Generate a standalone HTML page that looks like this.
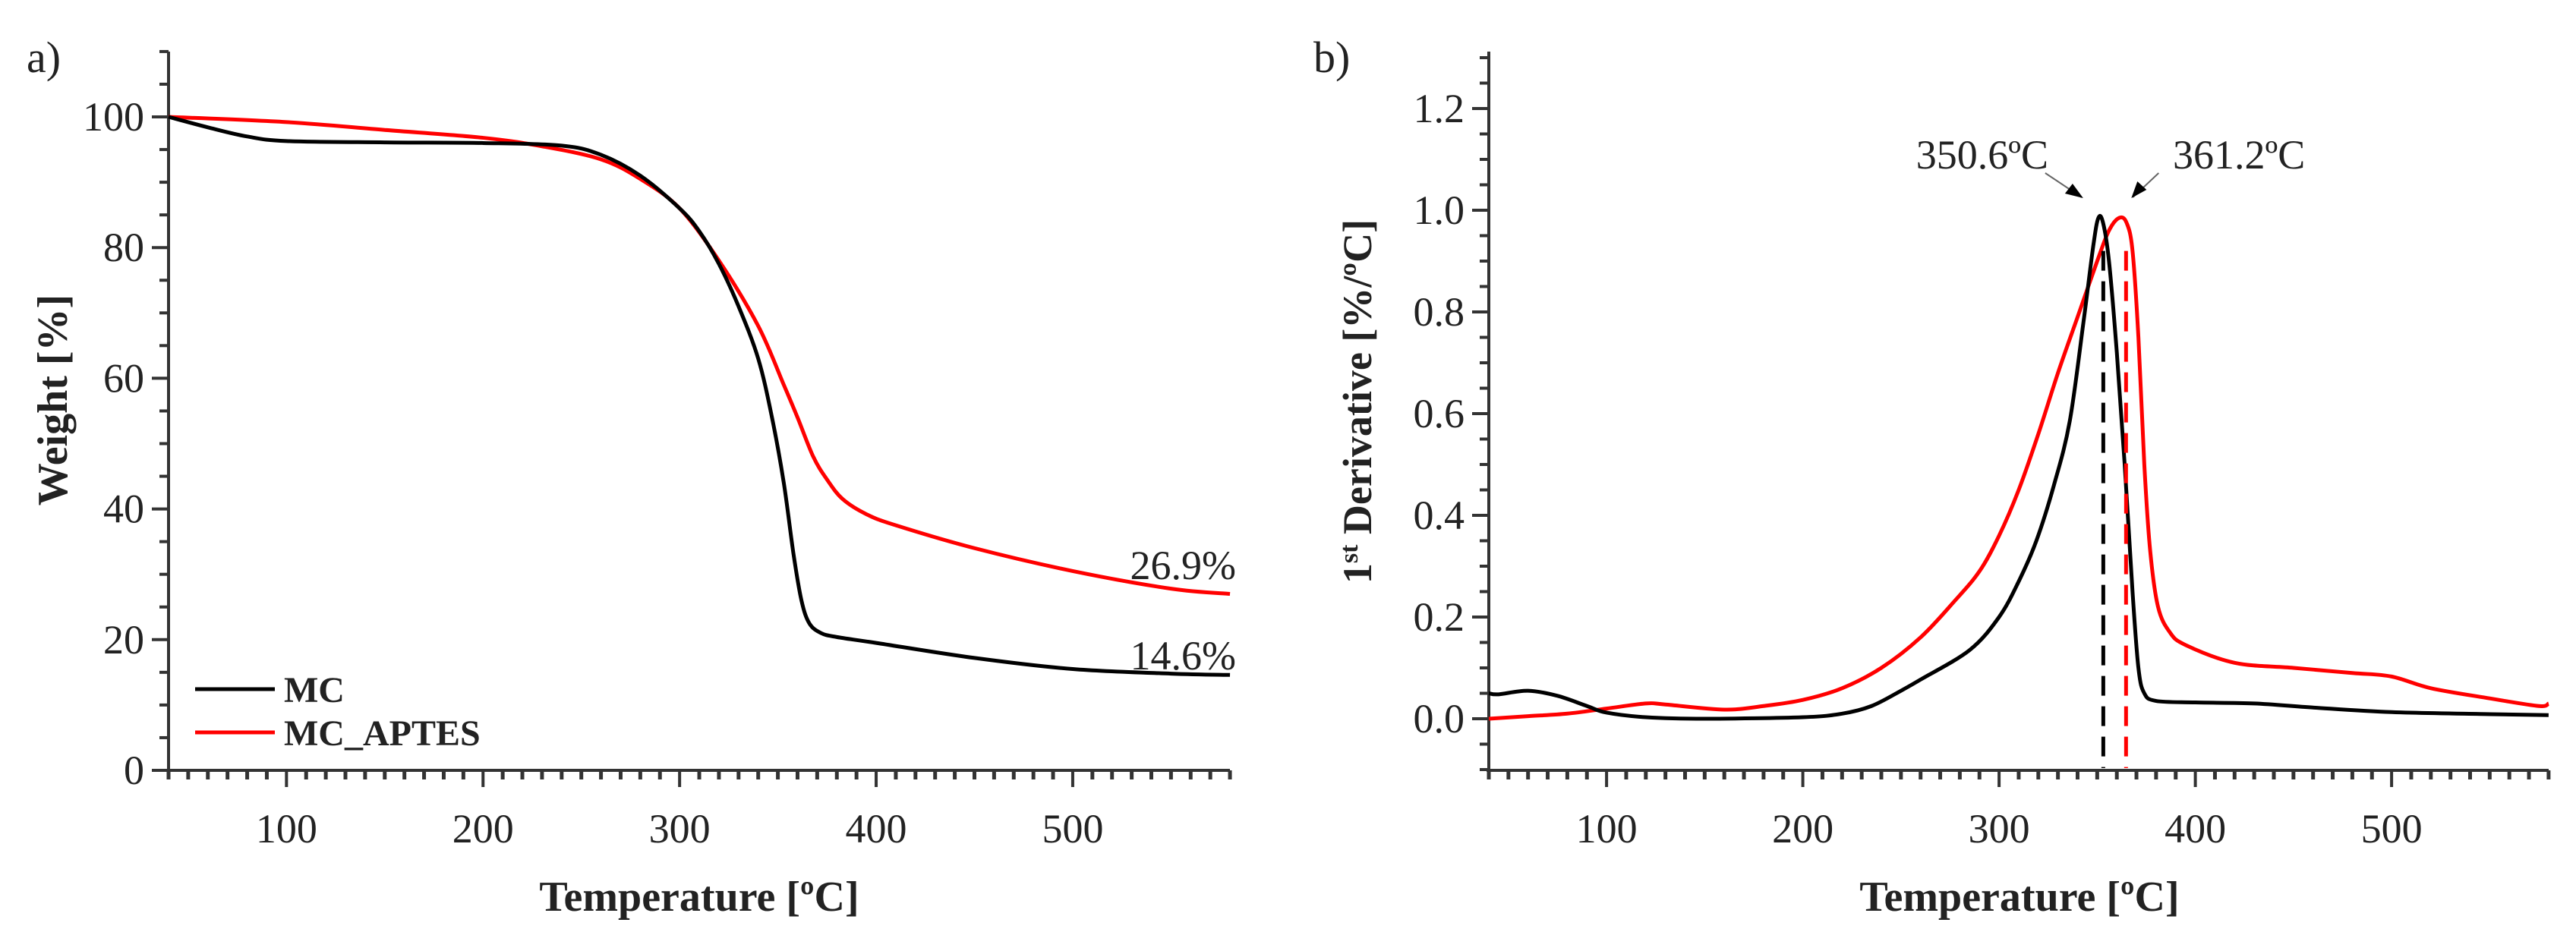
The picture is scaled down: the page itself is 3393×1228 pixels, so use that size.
<!DOCTYPE html>
<html><head><meta charset="utf-8"><style>
html,body{margin:0;padding:0;background:#fff}
svg{display:block}
text{font-family:"Liberation Serif","DejaVu Serif",serif;fill:#222}
</style></head><body>
<svg id="fig" width="3393" height="1228" viewBox="0 0 3393 1228" xmlns="http://www.w3.org/2000/svg"></svg>
<script>
// ---- Data: panel a (TGA weight) ----
const tgaMcT = [40,60,80,100,150,200,240,260,280,300,310,320,330,340,347,353,358,362,366,372,380,400,450,500,550,580];
const tgaMcW = [100,98.4,97,96.3,96.1,96,95.6,94.2,91,86,82.5,77.5,71,63,54,44,33,26,22.5,21,20.4,19.5,17.2,15.5,14.8,14.6];
const tgaApT = [40,100,150,200,230,260,280,300,320,340,353,360,368,375,383,395,410,450,500,550,580];
const tgaApW = [100,99.2,98,96.8,95.5,93.5,90.5,86,78,68,59,54,48,44.5,41.5,39.2,37.5,34,30.5,27.8,27];
// ---- Data: panel b (DTG) ----
const dtgMcT = [40,45,60,75,90,100,120,150,200,220,235,250,260,285,300,310,319,328,336,343,348,350.6,353,356,360,364,368,371,374,380,400,430,460,500,550,580];
const dtgMcD = [0.05,0.048,0.055,0.045,0.025,0.012,0.003,0,0.003,0.01,0.025,0.055,0.077,0.135,0.2,0.27,0.35,0.46,0.585,0.78,0.93,0.985,0.975,0.9,0.72,0.5,0.25,0.1,0.05,0.035,0.032,0.03,0.022,0.013,0.009,0.007];
const dtgApT = [40,60,80,100,120,130,160,180,200,220,240,260,277,290,300,310,320,330,340,350,356,361.2,365,368,371,374,377,381,387,395,420,450,480,500,520,550,575,580];
const dtgApD = [0,0.005,0.01,0.02,0.03,0.028,0.018,0.025,0.037,0.06,0.1,0.16,0.23,0.29,0.36,0.45,0.56,0.68,0.79,0.9,0.96,0.985,0.975,0.92,0.75,0.5,0.33,0.22,0.17,0.145,0.11,0.1,0.09,0.083,0.06,0.04,0.025,0.03];
const xTicks = [100,200,300,400,500];
const aYTicks = [0,20,40,60,80,100];
const bYTicks = [0,0.2,0.4,0.6,0.8,1.0,1.2];
const bYLabels = ["0.0","0.2","0.4","0.6","0.8","1.0","1.2"];
const peakT = [350.6,361.2];
const peakLabels = ["350.6ºC","361.2ºC"];
const residues = [26.9,14.6];

const NS="http://www.w3.org/2000/svg";
const svg=document.getElementById('fig');
function mk(tag,attrs,parent){const e=document.createElementNS(NS,tag);for(const k in attrs)e.setAttribute(k,attrs[k]);(parent||svg).appendChild(e);return e;}
function path(xs,ys,sx,sy){
  const p=xs.map((x,i)=>[sx(x),sy(ys[i])]);
  let d=`M${p[0][0]},${p[0][1]}`;
  for(let i=0;i<p.length-1;i++){
    const p0=p[Math.max(0,i-1)],p1=p[i],p2=p[i+1],p3=p[Math.min(p.length-1,i+2)];
    const c1=[p1[0]+(p2[0]-p0[0])/6,p1[1]+(p2[1]-p0[1])/6];
    const c2=[p2[0]-(p3[0]-p1[0])/6,p2[1]-(p3[1]-p1[1])/6];
    d+=` C${c1[0]},${c1[1]} ${c2[0]},${c2[1]} ${p2[0]},${p2[1]}`;
  }
  return d;
}
function axes(g,x0,x1,sx,yTop,yBot,sy,yT,yLab,minorY,yMin,yMax){
  mk('line',{x1:x0,y1:yTop,x2:x0,y2:yBot,stroke:'#333','stroke-width':4},g);
  mk('line',{x1:x0-3,y1:yBot,x2:x1,y2:yBot,stroke:'#333','stroke-width':4},g);
  for(let t=40;t<=580;t+=10){const x=sx(t);const maj=t%100===0;
    mk('line',{x1:x,y1:yBot,x2:x,y2:yBot+(maj?22:12),stroke:'#333','stroke-width':maj?4:5},g);}
  xTicks.forEach(t=>{const e=mk('text',{x:sx(t),y:yBot+95,'font-size':54,'text-anchor':'middle'},g);e.textContent=t;
    
    });
  for(let v=yMin;v<=yMax+1e-9;v+=minorY){const y=sy(v);const maj=yT.some(t=>Math.abs(t-v)<1e-6);
    mk('line',{x1:x0-(maj?22:12),y1:y,x2:x0,y2:y,stroke:'#333','stroke-width':4},g);}
  yT.forEach((t,i)=>{const e=mk('text',{x:x0-32,y:sy(t)+18,'font-size':54,'text-anchor':'end'},g);e.textContent=yLab[i];
    
    });
}
// ---- Panel a ----
const ga=mk('g',{});


const ax=t=>222+(t-40)*2.589, ay=v=>1015-v*8.61;
axes(ga,222,1620,ax,68,1015,ay,aYTicks,aYTicks.map(String),5,0,110);
let e=mk('path',{d:path(tgaApT,tgaApW,ax,ay),fill:'none',stroke:'#f00','stroke-width':5},ga);


e=mk('path',{d:path(tgaMcT,tgaMcW,ax,ay),fill:'none',stroke:'#000','stroke-width':5},ga);


residues.forEach((r,i)=>{const t=mk('text',{x:1628,y:[763,882][i],'font-size':54,'text-anchor':'end'},ga);t.textContent=r+'%';
  
  });
// legend
const lg=mk('g',{},ga);


mk('line',{x1:257,y1:908,x2:362,y2:908,stroke:'#000','stroke-width':5},lg);
mk('line',{x1:257,y1:965,x2:362,y2:965,stroke:'#f00','stroke-width':5},lg);
e=mk('text',{x:374,y:925,'font-size':48,'font-weight':'bold'},lg);e.textContent='MC';


e=mk('text',{x:374,y:982,'font-size':48,'font-weight':'bold'},lg);e.textContent='MC_APTES';


e=mk('text',{x:921,y:1200,'font-size':56,'font-weight':'bold','text-anchor':'middle'},ga);e.textContent='Temperature [ºC]';


e=mk('text',{x:0,y:0,'font-size':56,'font-weight':'bold','text-anchor':'middle',transform:'translate(88,527) rotate(-90)'},ga);e.textContent='Weight [%]';


e=mk('text',{x:35,y:95,'font-size':58},ga);e.textContent='a)';


// ---- Panel b ----
const gb=mk('g',{});


const bx=t=>1961+(t-40)*2.585, by=v=>947-v*670;
axes(gb,1961,3357,bx,68,1015,by,bYTicks,bYLabels,0.05,-0.1,1.3);
e=mk('path',{d:path(dtgApT,dtgApD,bx,by),fill:'none',stroke:'#f00','stroke-width':5},gb);


e=mk('path',{d:path(dtgMcT,dtgMcD,bx,by),fill:'none',stroke:'#000','stroke-width':5},gb);


// dashed peak markers
[[peakT[0]+2.5,'#000'],[peakT[1]+3.5,'#f00']].forEach(([t,c])=>{
  const l=mk('line',{x1:bx(t),y1:by(0.92),x2:bx(t),y2:1012,stroke:c,'stroke-width':5,'stroke-dasharray':'26,14'},gb);
  
  });
// arrows + labels
const pk=[bx(peakT[0]),bx(peakT[1])];
e=mk('line',{x1:pk[0]-70,y1:228,x2:pk[0]-22,y2:260,stroke:'#666','stroke-width':2},gb);


mk('path',{d:`M${pk[0]-20},261 l-24,-6 l10,-13z`,fill:'#000'},gb);
e=mk('line',{x1:pk[1]+52,y1:228,x2:pk[1]+18,y2:260,stroke:'#666','stroke-width':2},gb);


mk('path',{d:`M${pk[1]+16},261 l8,-22 l12,11z`,fill:'#000'},gb);
e=mk('text',{x:2698,y:222,'font-size':54,'text-anchor':'end'},gb);e.textContent=peakLabels[0];


e=mk('text',{x:2862,y:222,'font-size':54},gb);e.textContent=peakLabels[1];


e=mk('text',{x:2660,y:1200,'font-size':56,'font-weight':'bold','text-anchor':'middle'},gb);e.textContent='Temperature [ºC]';


e=mk('text',{x:0,y:0,'font-size':54,'font-weight':'bold','text-anchor':'middle',transform:'translate(1806,529) rotate(-90)'},gb);
e.innerHTML='1<tspan dy="-18" font-size="34">st</tspan><tspan dy="18"> Derivative [%/ºC]</tspan>';


e=mk('text',{x:1730,y:95,'font-size':58},gb);e.textContent='b)';


</script>
</body></html>
